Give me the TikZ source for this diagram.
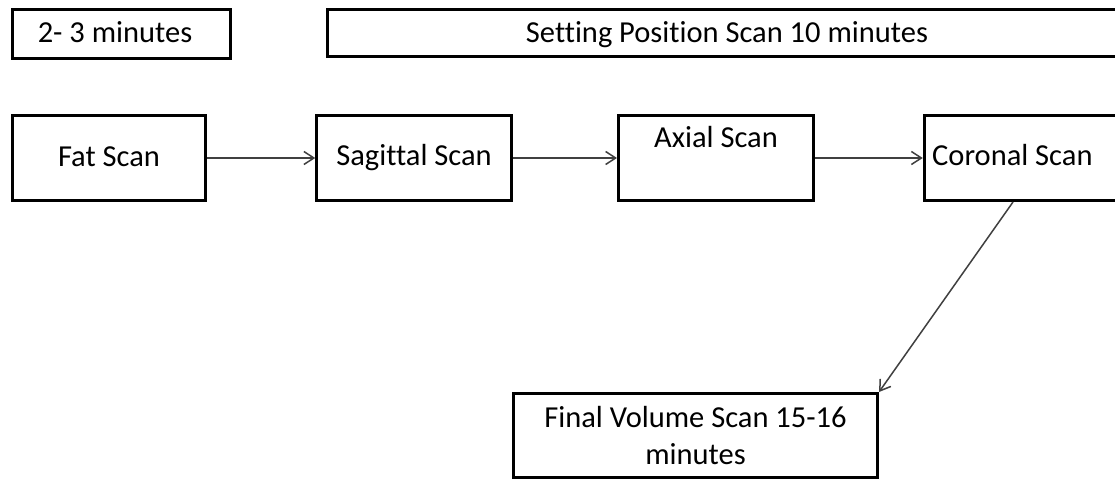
\documentclass[tikz,border=0pt]{standalone}
\usepackage{fontspec}
\setmainfont{Carlito}[Ligatures={NoCommon}]
\usetikzlibrary{arrows.meta}
\begin{document}
\begin{tikzpicture}[x=1pt,y=-1pt,
  box/.style={draw=black,line width=3pt,rectangle,inner sep=0pt},
  lbl/.style={font=\fontsize{30.5}{36.6}\selectfont,text=black,inner sep=0pt},
  arr/.style={draw=black!75,line width=1.5pt,-{Straight Barb[length=10pt,width=13pt]}}]
\useasboundingbox[fill=white] (0,0) rectangle (1115,481);
% top bars
\node[box,minimum width=218pt,minimum height=49pt] (t1) at (121.5,34) {};
\node[lbl,anchor=base] (t1text) at (115,43) {2- 3 minutes};
\node[box,minimum width=802.5pt,minimum height=47pt] (t2) at (728.75,33.5) {};
\node[lbl,anchor=base] (t2text) at (727,43) {Setting Position Scan 10 minutes};
% main row
\node[box,minimum width=193pt,minimum height=85pt] (fat) at (109,158) {};
\node[lbl,anchor=base] (fattext) at (109,167) {Fat Scan};
\node[box,minimum width=194.5pt,minimum height=85pt] (sag) at (414,158) {};
\node[lbl,anchor=base] (sagtext) at (414,166) {Sagittal Scan};
\node[box,minimum width=195pt,minimum height=85pt] (axial) at (716,158) {};
\node[lbl,anchor=base] (axialtext) at (716,148) {Axial Scan};
\node[box,minimum width=205.5pt,minimum height=85pt] (coronal) at (1027,158) {};
\node[lbl,anchor=base west] (coronaltext) at (932,166) {Coronal Scan};
% final
\node[box,lbl,line width=3pt,minimum width=364pt,minimum height=84pt,align=center] (final) at (695.5,435.5) {Final Volume Scan 15-16\\minutes};
% connectors
\draw[arr] (fat.east) -- (sag.west);
\draw[arr] (sag.east) -- (axial.west);
\draw[arr] (axial.east) -- (coronal.west);
\draw[arr] ([xshift=-14pt]coronal.south) -- (final.north east);
\end{tikzpicture}
\end{document}
